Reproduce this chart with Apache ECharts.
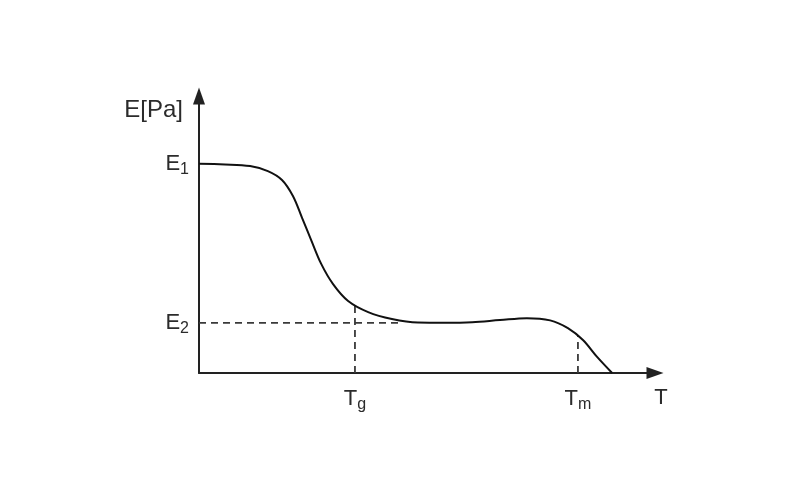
<!DOCTYPE html>
<html>
<head>
<meta charset="utf-8">
<script src="https://cdn.jsdelivr.net/npm/echarts@6/dist/echarts.min.js"></script>
<style>
  html, body { margin: 0; padding: 0; background: #fff; }
  #chart { width: 800px; height: 500px; }
</style>
</head>
<body>
<div id="chart"></div>
<script>
// temperature (arb. units) vs modulus (arb. units)
const temps = [0, 5.7, 11.2, 15.1, 18.2, 20.6, 22.6, 24.6, 26.8, 29.4, 32.7, 37.1,
  42.3, 48.0, 53.9, 59.9, 66.0, 71.9, 77.0, 80.9, 84.2, 87.3, 90.6]
const modulus = [75.5, 75.3, 74.7, 72.9, 69.7, 63.9, 56.0, 48.0, 39.4, 32.1, 26.0, 22.0,
  19.5, 18.2, 18.1, 18.3, 19.1, 19.8, 19.0, 16.2, 11.9, 5.8, 0]

// marked levels
const yTickValues = [75.5, 18.1]
const yTickLabels = ['{m|E}{s|1}', '{m|E}{s|2}']
const xTickValues = [34.2, 83.1]
const xTickLabels = ['{m|T}{s|g}', '{m|T}{s|m}']

// guide lines: E2 level, Tg and Tm drop lines
const e2Guide = [[0, 18.1], [44.1, 18.1]]
const tgGuide = [[34.2, 0], [34.2, 24.4]]
const tmGuide = [[83.1, 0], [83.1, 13.5]]

const chart = echarts.init(document.getElementById('chart'))

const textColor = '#2b2b2b'
const font = 'Liberation Sans, Arial, sans-serif'
const rich = {
  m: { fontSize: 22, color: textColor, fontFamily: font, lineHeight: 24 },
  s: { fontSize: 16, color: textColor, fontFamily: font, verticalAlign: 'bottom', padding: [12, 0, 0, 0] },
}

function lookup(values, labels) {
  return (v) => {
    const i = values.findIndex(x => Math.abs(x - v) < 1e-6)
    return i >= 0 ? labels[i] : ''
  }
}

const axisLine = {
  show: true,
  symbol: ['none', 'triangle'],
  symbolSize: [12, 17],
  lineStyle: { color: '#222', width: 2 },
}

function guide(data) {
  return {
    type: 'line',
    data,
    symbol: 'none',
    silent: true,
    lineStyle: { color: '#3a3a3a', width: 1.8, type: [7, 5] },
  }
}

chart.setOption({
  animation: false,
  grid: { left: 199, right: 145, top: 96, bottom: 127 },
  xAxis: {
    type: 'value',
    min: 0,
    max: 100,
    name: 'T',
    nameLocation: 'end',
    nameGap: 6,
    nameTextStyle: {
      fontSize: 22, color: textColor, fontFamily: font,
      align: 'center', verticalAlign: 'top', padding: [14, 0, 0, 0],
    },
    axisLine,
    axisTick: { show: false },
    splitLine: { show: false },
    axisLabel: {
      customValues: xTickValues,
      formatter: lookup(xTickValues, xTickLabels),
      margin: 12,
      rich,
    },
  },
  yAxis: {
    type: 'value',
    min: 0,
    max: 100,
    name: 'E[Pa]',
    nameLocation: 'end',
    nameGap: -2,
    nameTextStyle: {
      fontSize: 24, color: textColor, fontFamily: font,
      align: 'right', verticalAlign: 'top', padding: [0, 16, 0, 0],
    },
    axisLine,
    axisTick: { show: false },
    splitLine: { show: false },
    axisLabel: {
      customValues: yTickValues,
      formatter: lookup(yTickValues, yTickLabels),
      margin: 10,
      rich,
    },
  },
  series: [
    guide(e2Guide),
    guide(tgGuide),
    guide(tmGuide),
    {
      type: 'line',
      data: temps.map((t, i) => [t, modulus[i]]),
      smooth: 0.35,
      symbol: 'none',
      lineStyle: { color: '#111', width: 2 },
    },
  ],
})
</script>
</body>
</html>
